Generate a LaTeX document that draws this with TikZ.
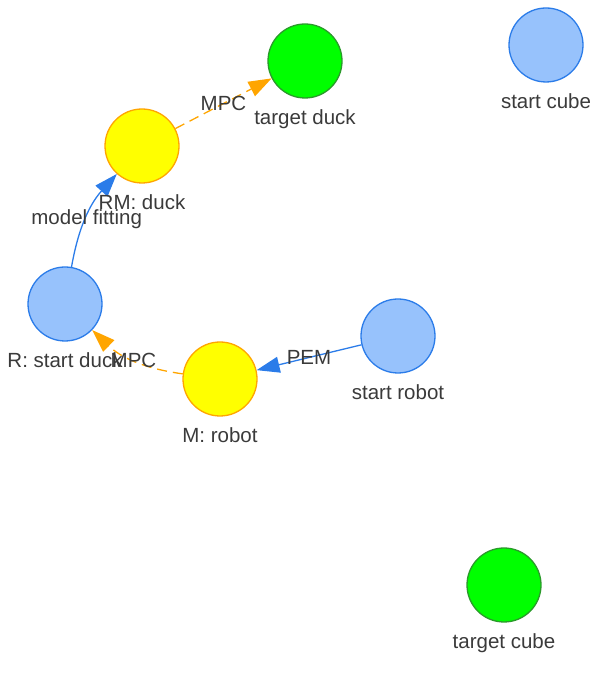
\documentclass[tikz,border=0pt]{standalone}
\usepackage{fontspec}
\setmainfont{Liberation Sans}
\usetikzlibrary{arrows.meta,calc}
\definecolor{bfill}{HTML}{97C2FC}
\definecolor{bdraw}{HTML}{2B7CE9}
\definecolor{yfill}{HTML}{FFFF00}
\definecolor{ydraw}{HTML}{FFA500}
\definecolor{gfill}{HTML}{00FF00}
\definecolor{gdraw}{HTML}{2A9A2A}
\definecolor{txt}{HTML}{3A3A3A}
\begin{document}
\begin{tikzpicture}[x=1pt,y=1pt,
 nd/.style={circle,minimum size=74pt,inner sep=0pt,line width=1.3pt},
 bluen/.style={nd,fill=bfill,draw=bdraw},
 yellown/.style={nd,fill=yfill,draw=ydraw},
 greenn/.style={nd,fill=gfill,draw=gdraw},
 lbl/.style={anchor=base,text=txt,font=\fontsize{20.5}{24}\selectfont,inner sep=0pt},
 elbl/.style={text=txt,font=\fontsize{20.5}{24}\selectfont,inner sep=0pt,text height=14.6pt,text depth=0pt},
 solidedge/.style={draw=bdraw,line width=1.3pt,-{Triangle[length=23pt,width=16pt]}},
 dashedge/.style={draw=ydraw,line width=1.3pt,dash pattern=on 10pt off 6pt,-{Triangle[length=23pt,width=16pt]}},
]
\useasboundingbox (0,0) rectangle (600,676);
% nodes
\node[greenn] (td) at (305,615) {};
\node[bluen] (sc) at (546,631) {};
\node[yellown] (rm) at (142,530) {};
\node[bluen] (r) at (65,372) {};
\node[yellown] (m) at (220,297) {};
\node[bluen] (sr) at (398,340) {};
\node[greenn] (tc) at (504,91) {};
% edges
\draw[dashedge] (rm) -- node[elbl] (e1) {MPC} (td);
\draw[solidedge] (r) to[bend left=16] node[elbl] (e2) {model fitting} (rm);
\draw[dashedge] (m) to[bend left=18] node[elbl] (e3) {MPC} (r);
\draw[solidedge] (sr) -- node[elbl] (e4) {PEM} (m);
% node labels
\node[lbl] (tdl) at ($(td)+(0,-64)$) {target duck};
\node[lbl] (scl) at ($(sc)+(0,-64)$) {start cube};
\node[lbl] (rml) at ($(rm)+(0,-64)$) {RM: duck};
\node[lbl] (rl) at ($(r)+(0,-64)$) {R: start duck};
\node[lbl] (ml) at ($(m)+(0,-64)$) {M: robot};
\node[lbl] (srl) at ($(sr)+(0,-64)$) {start robot};
\node[lbl] (tcl) at ($(tc)+(0,-64)$) {target cube};
\end{tikzpicture}
\end{document}
